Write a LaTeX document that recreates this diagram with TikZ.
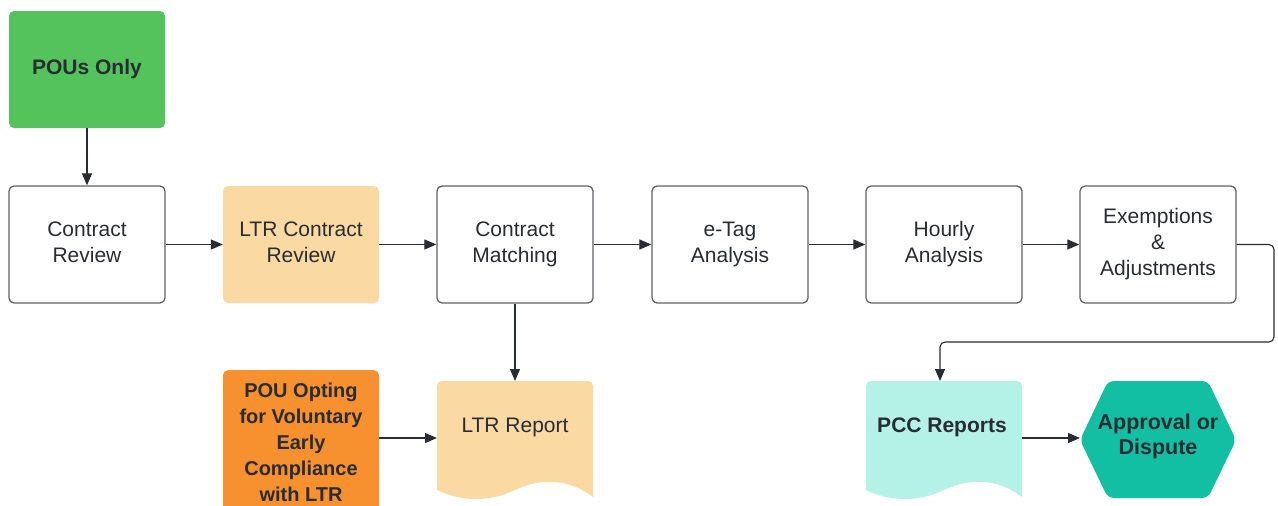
\documentclass[tikz,border=0pt]{standalone}
\usepackage{fontspec}
\setmainfont{Liberation Sans}
\usetikzlibrary{arrows.meta}
\definecolor{txt}{HTML}{282C33}
\definecolor{edge}{HTML}{5E6166}
\definecolor{gr}{HTML}{55C35B}
\definecolor{lor}{HTML}{FAD9A2}
\definecolor{orn}{HTML}{F7902F}
\definecolor{cyanl}{HTML}{B4F1E7}
\definecolor{teal}{HTML}{12BFA2}
\tikzset{
  x=1pt,y=-1pt,
  txtstyle/.style={text=txt,font=\fontsize{21}{26}\selectfont,align=center},
  plainbox/.style={txtstyle,draw=edge,line width=1.3pt,fill=white,rounded corners=5pt,minimum width=156pt,minimum height=117pt,inner sep=0pt},
  fillbox/.style={txtstyle,draw=none,rounded corners=5pt,minimum width=156pt,minimum height=117pt,inner sep=0pt},
  conn/.style={draw=txt,line width=1.1pt,-{Triangle[length=12pt,width=10pt]}},
}
\begin{document}
\begin{tikzpicture}
\clip (0,0) rectangle (1278,506);
\fill[white] (0,0) rectangle (1278,506);
% top
\node[fillbox,fill=gr,font=\fontsize{21}{26}\selectfont\bfseries] (pou) at (87,69.5) {POUs Only};
% row
\node[plainbox] (cr) at (87,244.5) {Contract\\Review\vphantom{g}};
\node[fillbox,fill=lor] (ltrcr) at (301,244.5) {LTR Contract\\Review\vphantom{g}};
\node[plainbox] (cm) at (515,244.5) {Contract\\Matching};
\node[plainbox] (et) at (730,244.5) {e-Tag\\Analysis};
\node[plainbox] (ha) at (944,244.5) {Hourly\\Analysis};
\node[plainbox] (ea) at (1158,244.5) {Exemptions\\\&\\Adjustments};
% POU opting
\node[fillbox,fill=orn,minimum height=145pt,font=\fontsize{20}{26}\selectfont\bfseries,anchor=north] (opt) at (301,370) {POU Opting\\for Voluntary\\Early\\Compliance\\with LTR};
% LTR Report document shape
\fill[lor,rounded corners=5pt] (437,490) -- (437,381) -- (593,381) [sharp corners]-- (593,497)
   .. controls (568,478) and (540,478) .. (515,490)
   .. controls (490,502) and (462,502) .. (437,490) -- cycle;
\node[txtstyle,inner sep=0pt] (ltrr) at (515,427) {LTR Report};
\coordinate (ltrrw) at (437,438);
\coordinate (ltrrn) at (515,381);
% PCC Reports
\fill[cyanl,rounded corners=5pt] (866,490) -- (866,381) -- (1022,381) [sharp corners]-- (1022,497)
   .. controls (997,478) and (969,478) .. (944,490)
   .. controls (919,502) and (891,502) .. (866,490) -- cycle;
\node[txtstyle,font=\fontsize{21}{26}\selectfont\bfseries,inner sep=0pt] (pcc) at (942,427) {PCC Reports};
\coordinate (pccn) at (940,381);
\coordinate (pcce) at (1022,438);
% hexagon
\fill[teal,rounded corners=6pt] (1080,440) -- (1108,381) -- (1208,381) -- (1236,440) -- (1208,498) -- (1108,498) -- cycle;
\node[txtstyle,font=\fontsize{21.5}{25}\selectfont\bfseries,inner sep=0pt] (ap) at (1158,436) {Approval or\\Dispute};
\coordinate (apw) at (1080,438);
% connectors
\draw[conn] (pou.south) -- (cr.north);
\draw[conn] (cr.east) -- (ltrcr.west);
\draw[conn] (ltrcr.east) -- (cm.west);
\draw[conn] (cm.east) -- (et.west);
\draw[conn] (et.east) -- (ha.west);
\draw[conn] (ha.east) -- (ea.west);
\draw[conn] (cm.south) -- (ltrrn);
\draw[conn] (opt.east |- ltrrw) -- (ltrrw);
\draw[conn] (pcce) -- (apw);
\draw[conn,rounded corners=5pt] (ea.east) -- (1274,244.5) -- (1274,342) -- (940,342) -- (pccn);
\end{tikzpicture}
\end{document}
